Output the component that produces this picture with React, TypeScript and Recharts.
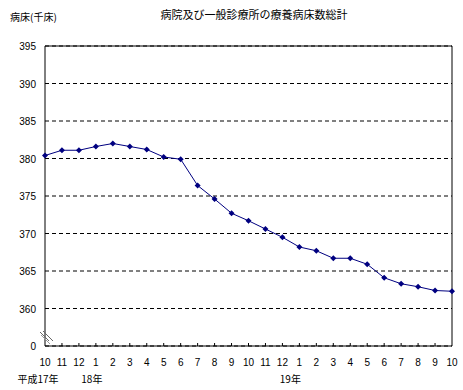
import { LineChart, Line, XAxis, YAxis, CartesianGrid, ReferenceLine } from "recharts";

// months from 平成17年10月 to 平成19年10月
const months = [10, 11, 12, 1, 2, 3, 4, 5, 6, 7, 8, 9, 10, 11, 12, 1, 2, 3, 4, 5, 6, 7, 8, 9, 10];
const beds = [
  380.4, 381.1, 381.1, 381.6, 382.0, 381.6, 381.2, 380.2, 379.9, 376.4, 374.6, 372.7, 371.7,
  370.6, 369.5, 368.2, 367.7, 366.7, 366.7, 365.9, 364.1, 363.3, 362.9, 362.4, 362.3,
];
const yearLabels: Record<number, string> = { 0: "平成17年", 3: "18年", 15: "19年" };
const yearShift: Record<number, number> = { 0: -7, 3: -4, 15: -9 };
// 355 on the scale stands for the broken "0" tick
const yTicks = [355, 360, 365, 370, 375, 380, 385, 390, 395];

const data = months.map((m, i) => ({ i, month: m, beds: beds[i] }));

const numFont = "'Liberation Sans', Arial, sans-serif";
const jpFont = "'Noto Sans CJK JP', sans-serif";

function XTick(props: any) {
  const { x, y, payload } = props;
  const i = payload.value;
  return (
    <g>
      {i > 0 && i < 24 && <line x1={x} x2={x} y1={y - 3} y2={y} stroke="#000" />}
      <text x={x} y={y + 20} textAnchor="middle" fontSize={10} fontFamily={numFont} fill="#000">
        {months[i]}
      </text>
      {yearLabels[i] && (
        <text x={x + yearShift[i]} y={y + 37} textAnchor="middle" fontSize={10} fontFamily={jpFont} fill="#000">
          {yearLabels[i]}
        </text>
      )}
    </g>
  );
}

function YTick(props: any) {
  const { y, payload } = props;
  return (
    <text x={36} y={y + 4} textAnchor="end" fontSize={10} fontFamily={numFont} fill="#000">
      {payload.value === 355 ? "0" : payload.value}
    </text>
  );
}

function Marker(props: any) {
  const { cx, cy } = props;
  return <path d={`M${cx - 3},${cy} L${cx},${cy - 3} L${cx + 3},${cy} L${cx},${cy + 3} Z`} fill="#000080" />;
}

export default function App() {
  return (
    <div style={{ position: "absolute", left: 0, top: 0, width: 463, height: 390, background: "#fff" }}>
      <div style={{ position: "absolute", left: 10, top: 9, fontSize: 10, fontFamily: jpFont }}>病床(千床)</div>
      <div
        style={{ position: "absolute", left: 0, width: 508, top: 6, textAlign: "center", fontSize: 11, fontFamily: jpFont }}
      >
        病院及び一般診療所の療養病床数総計
      </div>
      <LineChart width={463} height={390} data={data} margin={{ top: 46, right: 11, bottom: 0, left: 0 }}>
        <CartesianGrid vertical={false} stroke="#000" strokeDasharray="4 3" />
        <XAxis
          dataKey="i"
          type="number"
          domain={[0, 24]}
          ticks={months.map((_, i) => i)}
          interval={0}
          height={44}
          tickLine={false}
          tickSize={0}
          tickMargin={0}
          axisLine={{ stroke: "#000" }}
          tick={<XTick />}
        />
        <YAxis
          domain={[355, 395]}
          ticks={yTicks}
          width={45}
          tickLine={false}
          axisLine={{ stroke: "#000" }}
          tick={<YTick />}
          allowDataOverflow
        />
        <ReferenceLine y={395} stroke="#000" />
        <ReferenceLine x={24} stroke="#000" />
        <Line
          dataKey="beds"
          stroke="#000080"
          strokeWidth={1}
          dot={<Marker />}
          activeDot={false}
          isAnimationActive={false}
        />
      </LineChart>
      <svg style={{ position: "absolute", left: 0, top: 0 }} width={463} height={390}>
        <line x1={40} y1={332} x2={49} y2={341} stroke="#666" />
        <line x1={43} y1={331} x2={53} y2={341} stroke="#666" />
        <line x1={41} y1={335} x2={50} y2={344} stroke="#999" />
      </svg>
    </div>
  );
}
